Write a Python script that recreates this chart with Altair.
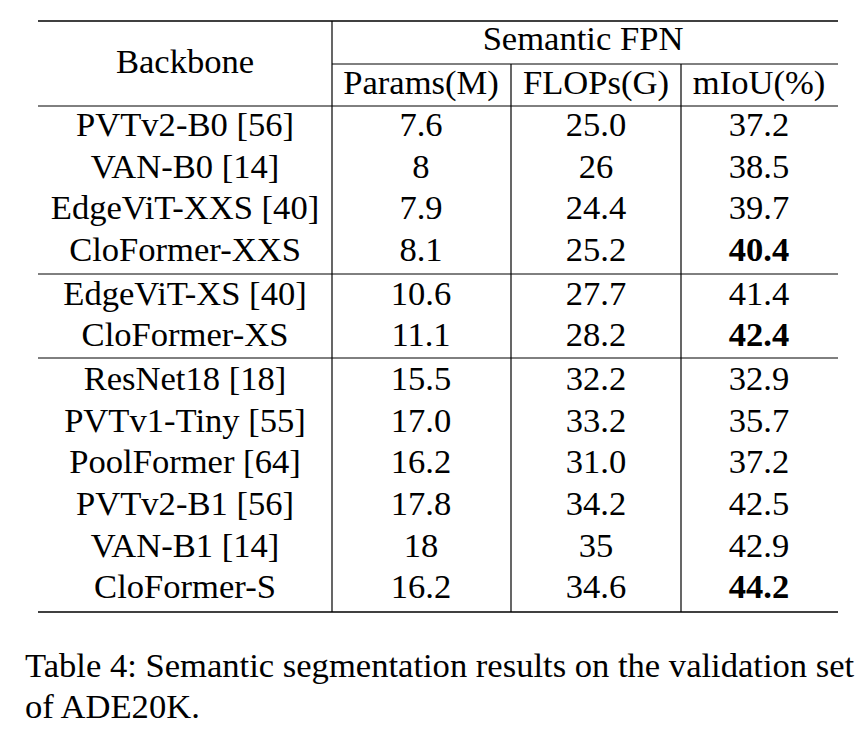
import altair as alt
import pandas as pd

# ---- table content ----
backbones = ["PVTv2-B0 [56]", "VAN-B0 [14]", "EdgeViT-XXS [40]", "CloFormer-XXS",
             "EdgeViT-XS [40]", "CloFormer-XS",
             "ResNet18 [18]", "PVTv1-Tiny [55]", "PoolFormer [64]", "PVTv2-B1 [56]",
             "VAN-B1 [14]", "CloFormer-S"]
params = ["7.6", "8", "7.9", "8.1", "10.6", "11.1", "15.5", "17.0", "16.2", "17.8", "18", "16.2"]
flops = ["25.0", "26", "24.4", "25.2", "27.7", "28.2", "32.2", "33.2", "31.0", "34.2", "35", "34.6"]
miou = ["37.2", "38.5", "39.7", "40.4", "41.4", "42.4", "32.9", "35.7", "37.2", "42.5", "42.9", "44.2"]
groups = [0, 0, 0, 0, 1, 1, 2, 2, 2, 2, 2, 2]
best = [False, False, False, True, False, True, False, False, False, False, False, True]
sub_headers = ["Params(M)", "FLOPs(G)", "mIoU(%)"]
caption = ["Table 4: Semantic segmentation results on the validation set", "of ADE20K."]

# ---- layout (chart coordinates, page margin 8px) ----
W, H = 849, 717
M = 8
col_x = [185 - M, 421 - M, 596 - M, 759 - M]
row0 = 126 - M
row_step = 41.6
group_gap = 2.3
FS = 34.6
FONT = "Liberation Serif"

cells = []
for i, b in enumerate(backbones):
    y = row0 + row_step * i + group_gap * groups[i]
    vals = [b, params[i], flops[i], miou[i]]
    for c, v in enumerate(vals):
        cells.append({"x": col_x[c], "y": y, "t": v,
                      "w": "bold" if (c == 3 and best[i]) else "normal"})
cells.append({"x": col_x[0], "y": 63 - M, "t": "Backbone", "w": "normal"})
cells.append({"x": 583 - M, "y": 40 - M, "t": "Semantic FPN", "w": "normal"})
for c, s in enumerate(sub_headers):
    cells.append({"x": col_x[c + 1], "y": 84 - M, "t": s, "w": "normal"})
cells_df = pd.DataFrame(cells)

cap_df = pd.DataFrame([{"x": 25 - M, "y": 667 - M, "t": caption[0]},
                       {"x": 25 - M, "y": 708 - M, "t": caption[1]}])

L, R = 38 - M, 838 - M
V1, V2, V3 = 332 - M, 511 - M, 681 - M
hr = pd.DataFrame([
    {"x": L, "x2": R, "y": 21 - M, "sw": 1.5},
    {"x": V1, "x2": R, "y": 64 - M, "sw": 1.0},
    {"x": L, "x2": R, "y": 106 - M, "sw": 1.0},
    {"x": L, "x2": R, "y": 274 - M, "sw": 1.0},
    {"x": L, "x2": R, "y": 358 - M, "sw": 1.0},
    {"x": L, "x2": R, "y": 612 - M, "sw": 1.5},
])
vr = pd.DataFrame([
    {"x": V1, "y": 21 - M, "y2": 612 - M},
    {"x": V2, "y": 64 - M, "y2": 612 - M},
    {"x": V3, "y": 64 - M, "y2": 612 - M},
])

xs = alt.Scale(domain=[0, W], range=[0, W])
ys = alt.Scale(domain=[0, H], range=[0, H])


def text_layer(df, weight, align="center"):
    return alt.Chart(df).mark_text(font=FONT, fontSize=FS, baseline="middle",
                                   align=align, color="black", fontWeight=weight).encode(
        x=alt.X("x:Q", scale=xs, axis=None),
        y=alt.Y("y:Q", scale=ys, axis=None),
        text="t:N",
    )


text_n = text_layer(cells_df[cells_df.w == "normal"], "normal")
text_b = text_layer(cells_df[cells_df.w == "bold"], "bold")
cap = text_layer(cap_df, "normal", align="left")

hrules = alt.Chart(hr).mark_rule(color="black").encode(
    x=alt.X("x:Q", scale=xs, axis=None), x2="x2:Q",
    y=alt.Y("y:Q", scale=ys, axis=None),
    strokeWidth=alt.StrokeWidth("sw:Q", scale=None),
)
vrules = alt.Chart(vr).mark_rule(color="black", strokeWidth=1.2).encode(
    x=alt.X("x:Q", scale=xs, axis=None),
    y=alt.Y("y:Q", scale=ys, axis=None), y2="y2:Q",
)

chart = alt.layer(hrules, vrules, text_n, text_b, cap).properties(
    width=W, height=H, padding=0, background="white",
    autosize=alt.AutoSizeParams(type="none")
).configure_view(stroke=None)

chart.save("out.html", embed_options={"renderer": "svg", "actions": False})
